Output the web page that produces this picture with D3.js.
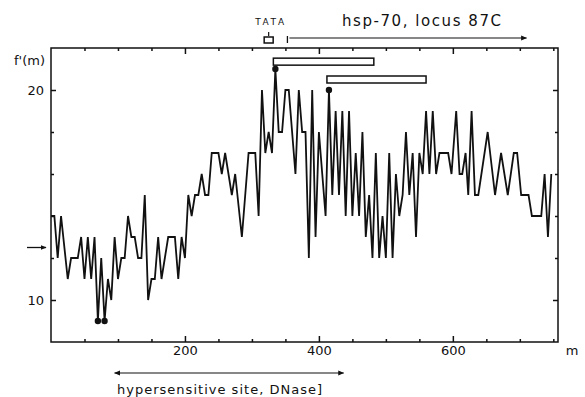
<!DOCTYPE html>
<html>
<head>
<meta charset="utf-8">
<script src="https://cdn.jsdelivr.net/npm/d3@7"></script>
<style>
  body { margin: 0; background: #fff; }
  svg { display: block; font-family: "DejaVu Sans", sans-serif; }
</style>
</head>
<body>
<script>
// position along the gene (m) and f'(m)
var positions = [0,5,10,15,25,30,40,45,50,55,60,65,70,75,80,85,90,95,100,105,
  110,115,120,125,130,135,140,145,150,155,160,165,170,175,185,190,195,200,205,210,
  215,220,225,230,235,240,250,255,260,270,275,285,295,305,310,315,320,325,330,335,
  340,345,350,355,365,370,375,380,385,390,395,400,405,410,415,420,425,430,435,440,
  445,450,455,460,465,470,475,480,485,490,495,500,505,510,515,520,525,530,535,540,
  545,550,555,560,565,570,575,580,593,598,605,610,614,619,623,628,633,638,652,663,
  672,682,691,696,702,713,718,732,737,742,747];
var fValues = [14,14,12,14,11,12,12,13,11,13,11,13,9,12,9,11,10,13,11,12,
  12,14,13,13,12,12,15,10,11,11,13,11,12,13,13,11,13,12,15,14,
  15,15,16,15,15,17,17,16,17,15,16,13,17,17,14,20,17,18,17,21,
  18,18,20,20,16,20,18,18,12,20,13,18,16,14,20,15,19,15,19,14,
  19,14,17,14,18,13,15,12,17,12,14,12,17,12,16,14,15,18,15,17,
  13,17,16,19,16,19,16,17,17,16,19,16,16,17,15,19,15,15,18,15,
  17,15,17,17,15,15,14,14,16,13,16];

// marked points (filled dots)
var dotPositions = [70, 80, 335, 415];
var dotValues = [9, 9, 21, 20];

// open bars above the curve
var barStarts = [332, 412];
var barEnds = [482, 560];
var barLevels = [21.35, 20.5];

var xMajorTicks = [200, 400, 600];
var xMinorTicks = [50, 100, 150, 250, 300, 350, 450, 500, 550, 650, 700, 750];
var yMajorTicks = [10, 20];
var yMinorTicks = [12, 14, 16, 18];

var tataPos = 325;
var hspRange = [353, 710];
var dnaseRange = [95, 437];
var meanLevel = 12.5;

var screen = { width: 585, height: 397 };
var svg = d3.select('body').append('svg')
  .attr('width', screen.width)
  .attr('height', screen.height);

var xScale = d3.scaleLinear().domain([0, 757]).range([51, 558]);
var yScale = d3.scaleLinear().domain([8, 22]).range([342, 48]);

var plotLeft = xScale.range()[0], plotRight = xScale.range()[1];
var plotTop = yScale.range()[1], plotBottom = yScale.range()[0];

svg.append('defs').append('marker')
  .attr('id', 'arrow')
  .attr('viewBox', '0 0 10 10')
  .attr('refX', 9).attr('refY', 5)
  .attr('markerWidth', 6).attr('markerHeight', 6)
  .attr('markerUnits', 'userSpaceOnUse')
  .attr('orient', 'auto-start-reverse')
  .append('path').attr('d', 'M0,1 L10,5 L0,9 Z').attr('fill', '#111');

// frame
svg.append('rect')
  .attr('x', plotLeft).attr('y', plotTop)
  .attr('width', plotRight - plotLeft).attr('height', plotBottom - plotTop)
  .attr('fill', 'none').attr('stroke', '#111').attr('stroke-width', 1.5);

// axes: ticks point into the frame
function styleAxis(g) {
  g.select('.domain').remove();
  g.selectAll('line').attr('stroke', '#111').attr('stroke-width', 1.5);
  g.selectAll('text').attr('fill', '#111').attr('font-size', 13)
    .attr('font-family', '"DejaVu Sans", sans-serif');
}

svg.append('g').attr('transform', 'translate(0,' + plotBottom + ')')
  .call(d3.axisBottom(xScale).tickValues(xMajorTicks).tickSize(-6).tickPadding(4))
  .call(styleAxis);
svg.append('g').attr('transform', 'translate(0,' + plotBottom + ')')
  .call(d3.axisBottom(xScale).tickValues(xMinorTicks).tickSize(-3).tickFormat(''))
  .call(styleAxis);
svg.append('g').attr('transform', 'translate(0,' + plotTop + ')')
  .call(d3.axisTop(xScale).tickValues(xMajorTicks).tickSize(-6).tickFormat(''))
  .call(styleAxis);
svg.append('g').attr('transform', 'translate(0,' + plotTop + ')')
  .call(d3.axisTop(xScale).tickValues(xMinorTicks).tickSize(-3).tickFormat(''))
  .call(styleAxis);

svg.append('g').attr('transform', 'translate(' + plotLeft + ',0)')
  .call(d3.axisLeft(yScale).tickValues(yMajorTicks).tickSize(-5).tickPadding(7))
  .call(styleAxis);
svg.append('g').attr('transform', 'translate(' + plotLeft + ',0)')
  .call(d3.axisLeft(yScale).tickValues(yMinorTicks).tickSize(-3).tickFormat(''))
  .call(styleAxis);
svg.append('g').attr('transform', 'translate(' + plotRight + ',0)')
  .call(d3.axisRight(yScale).tickValues(yMajorTicks).tickSize(-5).tickFormat(''))
  .call(styleAxis);
svg.append('g').attr('transform', 'translate(' + plotRight + ',0)')
  .call(d3.axisRight(yScale).tickValues(yMinorTicks).tickSize(-3).tickFormat(''))
  .call(styleAxis);

// axis titles
svg.append('text').attr('x', 45).attr('y', 65).attr('text-anchor', 'end')
  .attr('font-size', 13).attr('fill', '#111').text("f'(m)");
svg.append('text').attr('x', 572).attr('y', 355).attr('text-anchor', 'middle')
  .attr('font-size', 13).attr('fill', '#111').text('m');

// curve
var points = positions.map(function(p, i){ return [p, fValues[i]]; });
var drawLine = d3.line()
  .x(function(d){ return xScale(d[0]); })
  .y(function(d){ return yScale(d[1]); });
svg.append('path').datum(points)
  .attr('d', drawLine)
  .attr('fill', 'none').attr('stroke', '#111')
  .attr('stroke-width', 1.8).attr('stroke-linejoin', 'miter');

svg.append('g').selectAll('circle')
  .data(dotPositions).enter().append('circle')
  .attr('cx', function(d){ return xScale(d); })
  .attr('cy', function(d, i){ return yScale(dotValues[i]); })
  .attr('r', 3.2).attr('fill', '#111');

svg.append('g').selectAll('rect')
  .data(barStarts).enter().append('rect')
  .attr('x', function(d){ return xScale(d); })
  .attr('y', function(d, i){ return yScale(barLevels[i]) - 3.5; })
  .attr('width', function(d, i){ return xScale(barEnds[i]) - xScale(d); })
  .attr('height', 7)
  .attr('fill', 'none').attr('stroke', '#111').attr('stroke-width', 1.5);

// mean arrow on the left
svg.append('line')
  .attr('x1', 27).attr('x2', 46)
  .attr('y1', yScale(meanLevel)).attr('y2', yScale(meanLevel))
  .attr('stroke', '#111').attr('stroke-width', 1.3)
  .attr('marker-end', 'url(#arrow)');

// TATA box
svg.append('text').attr('x', xScale(tataPos) + 1).attr('y', 25)
  .attr('text-anchor', 'middle').attr('font-size', 9).attr('fill', '#111')
  .attr('textLength', 29).attr('lengthAdjust', 'spacing').text('TATA');
svg.append('line').attr('x1', xScale(tataPos)).attr('x2', xScale(tataPos))
  .attr('y1', 32).attr('y2', 36).attr('stroke', '#111').attr('stroke-width', 1.2);
svg.append('rect').attr('x', xScale(tataPos) - 4.5).attr('y', 37)
  .attr('width', 9).attr('height', 6)
  .attr('fill', 'none').attr('stroke', '#111').attr('stroke-width', 1.5);

// hsp-70 transcript arrow
svg.append('line').attr('x1', xScale(hspRange[0])).attr('x2', xScale(hspRange[0]))
  .attr('y1', 36).attr('y2', 43).attr('stroke', '#111').attr('stroke-width', 1.3);
svg.append('line')
  .attr('x1', xScale(hspRange[0]) + 2).attr('x2', xScale(hspRange[1]))
  .attr('y1', 38).attr('y2', 38)
  .attr('stroke', '#111').attr('stroke-width', 1.2)
  .attr('marker-end', 'url(#arrow)');
svg.append('text').attr('x', 342).attr('y', 26)
  .attr('font-size', 15).attr('fill', '#111')
  .attr('textLength', 159).attr('lengthAdjust', 'spacing')
  .text('hsp-70, locus 87C');

// DNase I hypersensitive site
svg.append('line')
  .attr('x1', xScale(dnaseRange[0])).attr('x2', xScale(dnaseRange[1]))
  .attr('y1', 373).attr('y2', 373)
  .attr('stroke', '#111').attr('stroke-width', 1.2)
  .attr('marker-start', 'url(#arrow)').attr('marker-end', 'url(#arrow)');
svg.append('text').attr('x', 117).attr('y', 394)
  .attr('font-size', 13).attr('fill', '#111')
  .attr('textLength', 205).attr('lengthAdjust', 'spacing')
  .text('hypersensitive site, DNase]');
</script>
</body>
</html>
